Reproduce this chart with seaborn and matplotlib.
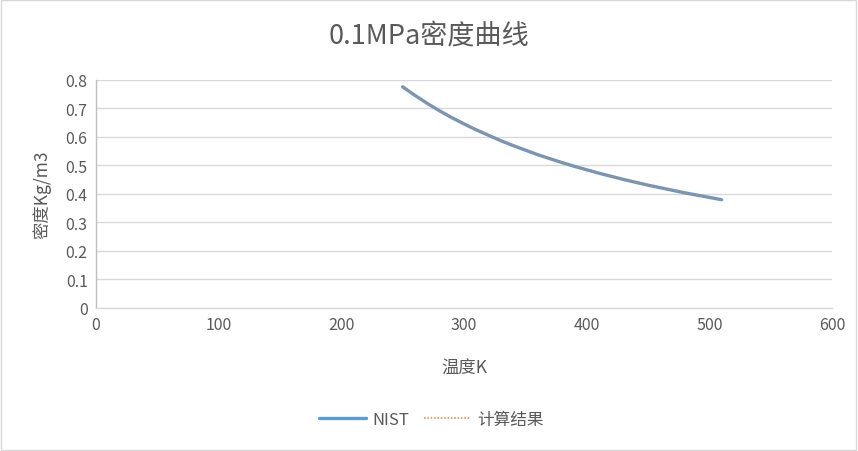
import matplotlib
matplotlib.use("Agg")
import matplotlib.pyplot as plt
import seaborn as sns
import pandas as pd
from matplotlib.patches import Rectangle

temps = [250, 260, 270, 280, 290, 300, 310, 320, 330, 340, 350, 360, 370, 380,
         390, 400, 410, 420, 430, 440, 450, 460, 470, 480, 490, 500, 510]
nist = [0.776, 0.746, 0.718, 0.692, 0.668, 0.646, 0.625, 0.606, 0.587, 0.570,
        0.554, 0.538, 0.524, 0.510, 0.497, 0.485, 0.473, 0.462, 0.451, 0.441,
        0.431, 0.422, 0.413, 0.404, 0.396, 0.388, 0.380]
calc = [0.776, 0.746, 0.718, 0.692, 0.668, 0.646, 0.625, 0.606, 0.587, 0.570,
        0.554, 0.538, 0.524, 0.510, 0.497, 0.485, 0.473, 0.462, 0.451, 0.441,
        0.431, 0.422, 0.413, 0.404, 0.396, 0.388, 0.380]
series_names = ["NIST", "计算结果"]
title = "0.1MPa密度曲线"
xlabel = "温度K"
ylabel = "密度Kg/m3"
xticks = [0, 100, 200, 300, 400, 500, 600]
yticks = [0, 0.1, 0.2, 0.3, 0.4, 0.5, 0.6, 0.7, 0.8]

sns.set_theme(style="white")
plt.rcParams['font.family'] = ['Noto Sans CJK SC', 'DejaVu Sans']

fig = plt.figure(figsize=(8.58, 4.52), dpi=100)
ax = fig.add_axes([0.1119, 0.3164, 0.9697 - 0.1119, 0.8208 - 0.3164])

df = pd.DataFrame({"T": temps, "NIST": nist, "calc": calc})
sns.lineplot(data=df, x="T", y="NIST", ax=ax, color="#5B9BD5", linewidth=2.4,
             label=series_names[0])
sns.lineplot(data=df, x="T", y="calc", ax=ax, color="#ED7D31", linewidth=1.1,
             linestyle=(0, (1, 1.2)), label=series_names[1])

ax.set_xlim(0, 600)
ax.set_ylim(0, 0.8)
ax.set_xticks(xticks)
ax.set_yticks(yticks)
ax.set_xticklabels([str(v) for v in xticks])
ax.set_yticklabels(["0"] + [f"{v:.1f}" for v in yticks[1:]])
ax.tick_params(axis="both", colors="#595959", labelsize=11.5, length=0, pad=6)
ax.grid(axis="y", color="#D9D9D9", linewidth=1)
ax.grid(axis="x", visible=False)
for s in ["top", "right"]:
    ax.spines[s].set_visible(False)
ax.spines["left"].set_color("#BFBFBF")
ax.spines["bottom"].set_color("#D9D9D9")
ax.spines["left"].set_linewidth(1)
ax.spines["bottom"].set_linewidth(1)

fig.text(0.5, 1 - 36 / 452, title, fontsize=19.5, color="#595959",
         ha="center", va="center")
ax.set_xlabel(xlabel, fontsize=12.5, color="#595959", labelpad=18)
ax.set_ylabel(ylabel, fontsize=12.5, color="#595959", labelpad=10)

leg = ax.legend(loc="upper center", bbox_to_anchor=(0.456, -0.385), ncol=2,
                frameon=False, fontsize=12, handlelength=2.8, columnspacing=0.9,
                handletextpad=0.4)
for t in leg.get_texts():
    t.set_color("#595959")

fig.patches.append(Rectangle((0.001, 0.002), 0.997, 0.995, transform=fig.transFigure,
                             fill=False, edgecolor="#D9D9D9", linewidth=1))

fig.savefig("out.png", dpi=100)
